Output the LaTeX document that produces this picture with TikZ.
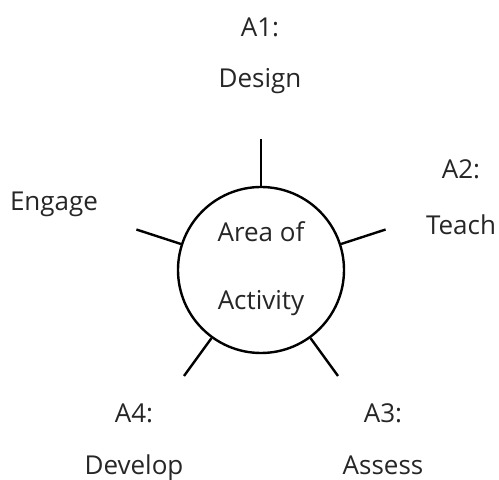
\documentclass[tikz,border=0pt]{standalone}
\usepackage{fontspec}
\setmainfont{Open Sans}
\begin{document}
\begin{tikzpicture}[x=1pt,y=1pt,
  lbl/.style={font=\fontsize{26}{51}\selectfont, align=center, anchor=base, inner sep=0pt, text=black!85},
  spoke/.style={line width=2.4pt, line cap=butt},
  ring/.style={circle, draw, line width=2.4pt, minimum size=166pt, inner sep=0pt}]
\useasboundingbox (0,0) rectangle (499,480);
\node[ring] (c) at (261,210) {};
\foreach \a/\n in {90/1,18/2,162/3,-54/4,-126/5}{
  \coordinate (e\n) at ([shift={(\a:131)}]c.center);
  \draw[spoke] (c.\a) -- (e\n);
}
\node[lbl] (area) at (261,170) {Area of\\[17pt]Activity};
\node[lbl] (a1) at (260,392) {A1:\\Design};
\node[lbl] (a2) at (461,245) {A2:\\[5pt]Teach};
\node[lbl] (eng) at (54,269) {Engage};
\node[lbl] (a4) at (134,5) {A4:\\[1pt]Develop};
\node[lbl] (a3) at (383,5) {A3:\\[1pt]Assess};
\end{tikzpicture}
\end{document}
